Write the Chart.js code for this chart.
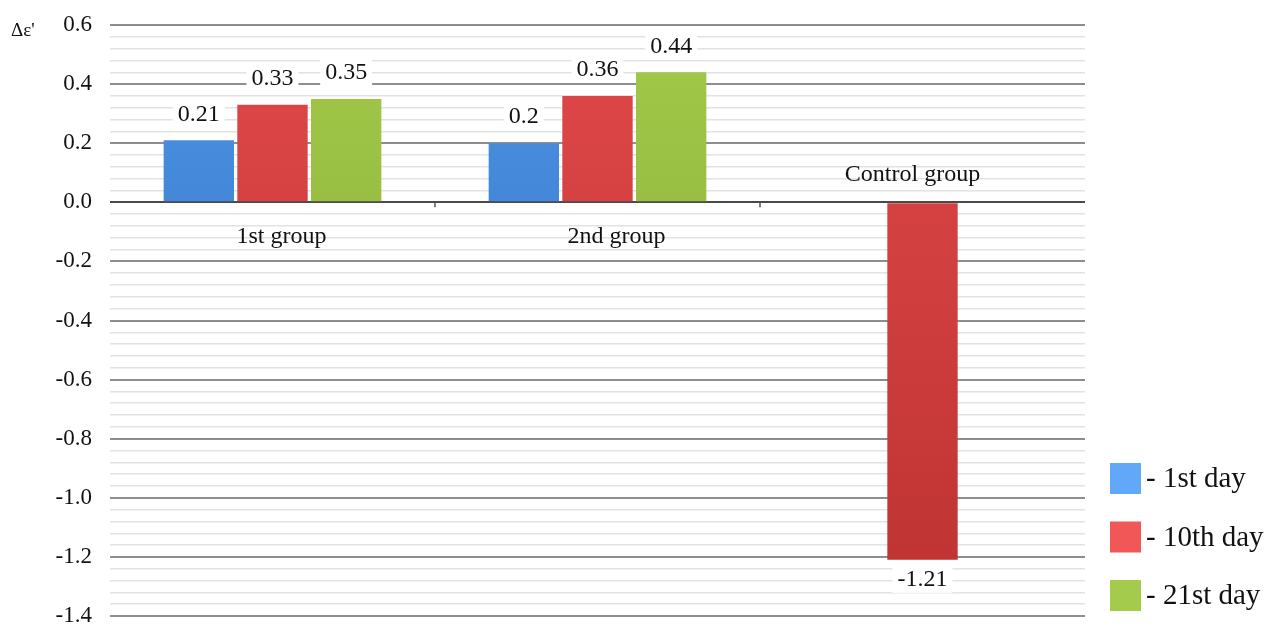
<!DOCTYPE html>
<html>
<head>
<meta charset="utf-8">
<script src="https://cdn.jsdelivr.net/npm/chart.js@4.4.0/dist/chart.umd.min.js"></script>
<style>
  html, body { margin: 0; padding: 0; background: #fff; }
  #wrap { width: 1272px; height: 630px; position: relative; }
</style>
</head>
<body>
<div id="wrap"><canvas id="chart"></canvas></div>
<script>
// data
const categories = ['1st group', '2nd group', 'Control group'];
const seriesNames = ['1st day', '10th day', '21st day'];
const day1 = [0.21, 0.2, null];
const day10 = [0.33, 0.36, -1.21];
const day21 = [0.35, 0.44, null];
const yMin = -1.4, yMax = 0.6, yMinorStep = 0.04;

const SERIF = "'Liberation Serif', 'Times New Roman', serif";
const barTop = ['#4d93e4', '#e04848', '#a2c94a'];
const barBottom = ['#2f6cbc', '#bd3232', '#84a82f'];
const legendColors = ['#62a8f8', '#f25757', '#a5cb4c'];
const catShift = [9, 19, -10]; // labels sit a little off the bar centres

function grad(i) {
  return function (ctx) {
    const ca = ctx.chart.chartArea;
    if (!ca) return barTop[i];
    const g = ctx.chart.ctx.createLinearGradient(0, ca.top, 0, ca.bottom);
    g.addColorStop(0, barTop[i]);
    g.addColorStop(1, barBottom[i]);
    return g;
  };
}

const isMajor = v => Math.abs(Math.round(v * 100)) % 20 === 0;

const labelsPlugin = {
  id: 'labels',
  afterDatasetsDraw(chart) {
    const ctx = chart.ctx;
    ctx.save();
    ctx.font = '24px ' + SERIF;
    ctx.textAlign = 'center';
    ctx.textBaseline = 'middle';
    chart.data.datasets.forEach((ds, di) => {
      const meta = chart.getDatasetMeta(di);
      meta.data.forEach((bar, i) => {
        const v = ds.data[i];
        if (v === null) return;
        const txt = String(v);
        const y = v >= 0 ? bar.y - 27 : bar.y + 19;
        const w = ctx.measureText(txt).width + 10;
        ctx.fillStyle = '#fff';
        ctx.fillRect(bar.x - w / 2, y - 14, w, 28);
        ctx.fillStyle = '#111';
        ctx.fillText(txt, bar.x, y + 1);
      });
    });

    // category names next to the zero line
    const xs = chart.scales.x, ys = chart.scales.y;
    const y0 = ys.getPixelForValue(0);
    ctx.font = '24px ' + SERIF;
    categories.forEach((c, i) => {
      const x = xs.getPixelForValue(i) + catShift[i];
      const neg = day10[i] < 0;
      ctx.fillText(c, x, neg ? y0 - 28 : y0 + 34);
    });
    // small ticks between categories on zero line
    ctx.strokeStyle = '#555';
    ctx.lineWidth = 1.5;
    for (let i = 0; i < categories.length - 1; i++) {
      const x = (xs.getPixelForValue(i) + xs.getPixelForValue(i + 1)) / 2;
      ctx.beginPath();
      ctx.moveTo(x, y0);
      ctx.lineTo(x, y0 + 5);
      ctx.stroke();
    }

    // axis caption
    ctx.font = '19px ' + SERIF;
    ctx.textAlign = 'left';
    ctx.fillText('\u0394\u03b5\'', 11, 31);

    // legend
    ctx.font = '29px ' + SERIF;
    ctx.textBaseline = 'alphabetic';
    seriesNames.forEach((n, i) => {
      const yc = 478 + i * 58.5;
      ctx.fillStyle = legendColors[i];
      ctx.fillRect(1110, yc - 15, 31, 31);
      ctx.fillStyle = '#111';
      ctx.fillText('- ' + n, 1146, yc + 9);
    });
    ctx.restore();
  }
};

new Chart(document.getElementById('chart'), {
  type: 'bar',
  data: {
    labels: categories,
    datasets: [
      { label: seriesNames[0], data: day1, backgroundColor: grad(0) },
      { label: seriesNames[1], data: day10, backgroundColor: grad(1) },
      { label: seriesNames[2], data: day21, backgroundColor: grad(2) }
    ]
  },
  options: {
    responsive: true,
    maintainAspectRatio: false,
    animation: false,
    layout: { padding: { top: 25, right: 187, bottom: 14, left: 0 } },
    datasets: { bar: { categoryPercentage: 0.68, barPercentage: 0.955 } },
    plugins: { legend: { display: false }, tooltip: { enabled: false } },
    scales: {
      x: { display: false },
      y: {
        min: yMin,
        max: yMax,
        afterFit(scale) {
          scale.width = 110;
          scale.paddingTop = 0;
          scale.paddingBottom = 0;
        },
        border: { display: false },
        grid: {
          drawTicks: false,
          color: c => Math.abs(c.tick.value) < 1e-6 ? '#4a4a4a' : (isMajor(c.tick.value) ? '#8e8e8e' : '#e2e2e2'),
          lineWidth: c => isMajor(c.tick.value) ? 2 : 1.5
        },
        ticks: {
          stepSize: yMinorStep,
          autoSkip: false,
          padding: 18,
          color: '#111',
          font: { family: SERIF, size: 23 },
          callback: v => isMajor(v) ? (Math.round(v * 10) / 10).toFixed(1) : ''
        }
      }
    }
  },
  plugins: [labelsPlugin]
});
</script>
</body>
</html>
